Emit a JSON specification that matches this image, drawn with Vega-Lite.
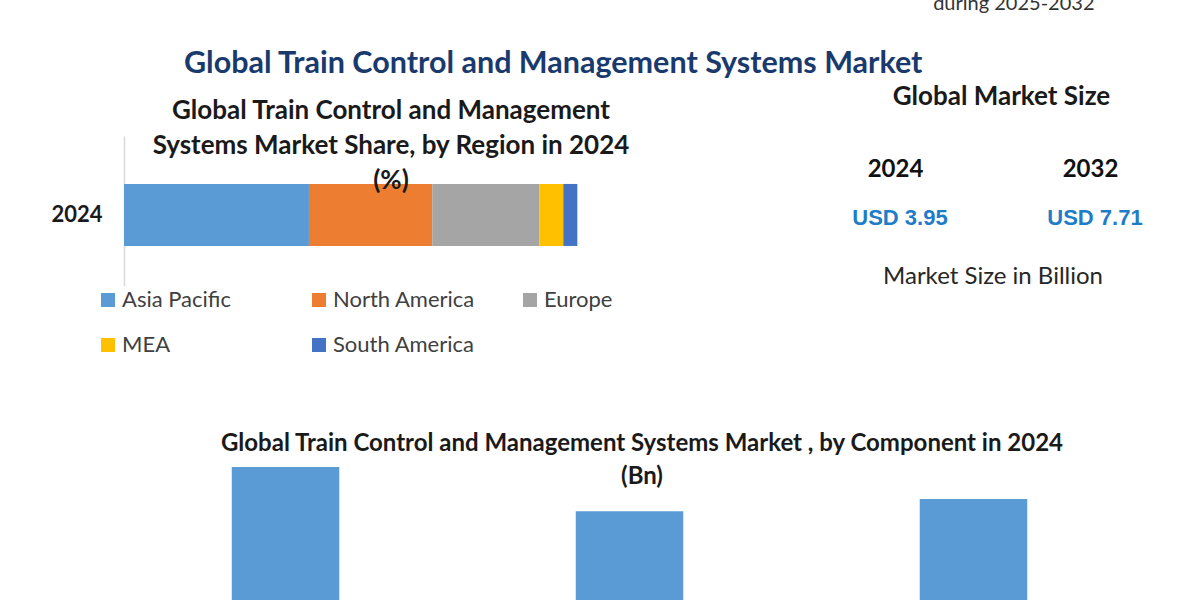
{
  "$schema": "https://vega.github.io/schema/vega-lite/v6.json",
  "padding": {"left": 50, "top": -7, "right": 0, "bottom": 0},
  "background": "white",
  "config": {
    "view": {"stroke": null},
    "font": "Lato",
    "locale": {"number": {"decimal": ".", "thousands": ",", "grouping": [3], "currency": ["USD ", ""]}},
    "axis": {"grid": false}
  },
  "title": {"text": "during 2025-2032", "anchor": "end", "fontSize": 20, "fontWeight": "normal", "color": "#333333", "dx": -93, "offset": 35, "font": "Lato"},
  "vconcat": [
    {
      "title": {"text": "Global Train Control and Management Systems Market", "fontSize": 30.5, "fontWeight": "bold", "color": "#1a3a6e", "anchor": "middle", "dx": -66, "offset": 5, "font": "Lato"},
      "spacing": 132,
      "vconcat": [
        {
          "bounds": "flush",
          "spacing": 129.5,
          "hconcat": [
            {
              "width": 544,
              "height": 150,
              "title": {"text": ["Global Train Control and Management", "Systems Market  Share, by Region in 2024", "(%)"], "fontSize": 26, "fontWeight": "bold", "color": "#1a1a1a", "lineHeight": 35, "offset": -58, "anchor": "middle", "dx": -5, "font": "Lato"},
              "data": {"values": [
                {"year": "2024", "region": "Asia Pacific", "share": 40.8},
                {"year": "2024", "region": "North America", "share": 27.2},
                {"year": "2024", "region": "Europe", "share": 23.6},
                {"year": "2024", "region": "MEA", "share": 5.3},
                {"year": "2024", "region": "South America", "share": 3.1}
              ]},
              "mark": {"type": "bar"},
              "encoding": {
                "y": {"field": "year", "type": "nominal", "scale": {"paddingInner": 0.415, "paddingOuter": 0.415, "align": 0.545}, "axis": {"title": null, "labelFontSize": 22, "labelFontWeight": "bold", "labelColor": "#1a1a1a", "ticks": false, "tickSize": 0, "labelPadding": 22, "domainColor": "#d9d9d9", "domainWidth": 1.5, "labelFont": "Lato"}},
                "x": {"field": "share", "type": "quantitative", "stack": "zero", "scale": {"domain": [0, 120], "nice": false}, "axis": null},
                "order": {"field": "share", "sort": "descending"},
                "color": {
                  "field": "region", "type": "nominal",
                  "sort": ["Asia Pacific", "North America", "Europe", "MEA", "South America"],
                  "scale": {"domain": ["Asia Pacific", "North America", "Europe", "MEA", "South America"], "range": ["#5b9bd5", "#ed7d31", "#a5a5a5", "#ffc000", "#4472c4"]},
                  "legend": {"title": null, "orient": "none", "legendX": -27, "legendY": 153, "columns": 3, "direction": "horizontal", "symbolType": "square", "symbolSize": 196, "labelFontSize": 22, "labelColor": "#404040", "labelFont": "Lato", "columnPadding": 43, "rowPadding": 23, "gridAlign": "all", "symbolStrokeWidth": 0, "labelOffset": 3, "symbolOpacity": 1}
                }
              }
            },
            {
              "width": 390,
              "height": 164,
              "title": {"text": "Global Market Size", "fontSize": 26, "fontWeight": "bold", "color": "#1a1a1a", "dx": 9, "offset": 26, "font": "Lato"},
              "data": {"values": [{"year": "2024", "value": 3.95}, {"year": "2032", "value": 7.71}]},
              "mark": {"type": "text", "font": "Liberation Sans", "fontSize": 22, "fontWeight": "bold", "color": "#1f7cc6", "dx": 5},
              "encoding": {
                "x": {"field": "year", "type": "nominal", "scale": {"paddingInner": 0, "paddingOuter": 0}, "axis": {"orient": "top", "title": "Market Size in Billion", "titleFontSize": 24, "titleFontWeight": "normal", "titleColor": "#262626", "titleFont": "Lato", "titleY": 95, "titleBaseline": "middle", "labelFontSize": 24, "labelFontWeight": "bold", "labelColor": "#111111", "labelFont": "Lato", "ticks": false, "tickSize": 0, "domain": false, "labelPadding": 0, "offset": -45, "labelAngle": 0}},
                "text": {"field": "value", "type": "quantitative", "format": "$.2f"}
              }
            }
          ]
        },
        {
          "width": 1011,
          "height": 134,
          "title": {"text": ["Global Train Control and Management Systems Market , by Component in 2024", "(Bn)"], "fontSize": 24, "fontWeight": "bold", "color": "#1a1a1a", "lineHeight": 33, "offset": -22, "dx": 12.5, "font": "Lato"},
          "data": {"values": [
            {"component": "Hardware", "value": 1.48},
            {"component": "Software", "value": 1.19},
            {"component": "Services", "value": 1.27}
          ]},
          "mark": {"type": "bar", "color": "#5b9bd5", "clip": true},
          "encoding": {
            "x": {"field": "component", "type": "nominal", "sort": null, "scale": {"paddingInner": 0.6875, "paddingOuter": 0.3133, "align": 0.5}, "axis": null},
            "y": {"field": "value", "type": "quantitative", "scale": {"domain": [0.6, 1.48], "nice": false, "zero": false}, "axis": null}
          }
        }
      ]
    }
  ]
}
